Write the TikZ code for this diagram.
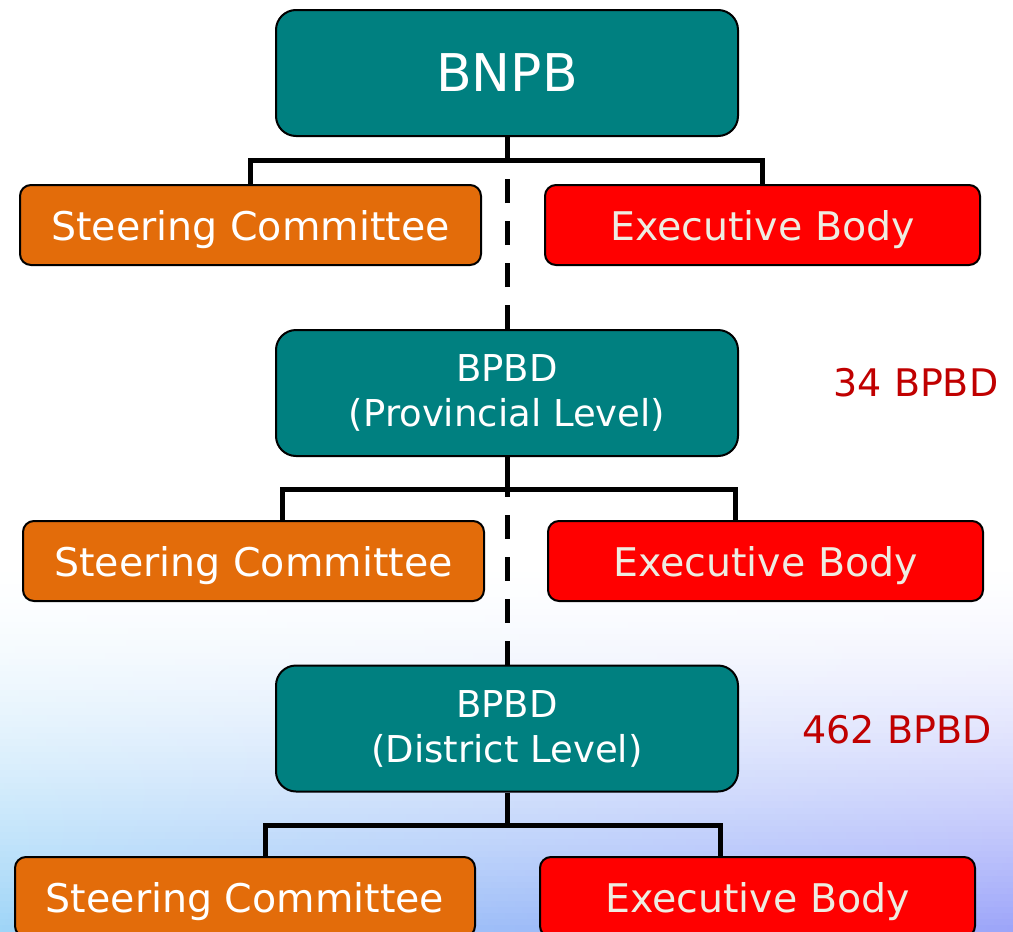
\documentclass[tikz,border=0pt]{standalone}
\usepackage{fontspec}
\setmainfont{DejaVu Sans}
\usepackage{xcolor}

\definecolor{agencyteal}{HTML}{008080}
\definecolor{steerorange}{HTML}{E36C0A}
\definecolor{execred}{HTML}{FF0000}
\definecolor{exectext}{HTML}{EEECE1}
\definecolor{tallyred}{HTML}{C00000}
\definecolor{bgsky}{HTML}{9ED4F7}
\definecolor{bgperi}{HTML}{9CA4F9}

\begin{document}
\begin{tikzpicture}[x=1pt,y=-1pt]
\tikzstyle{every node}+=[inner sep=0pt]
\tikzstyle{agency}=[draw=black,line width=2pt,fill=agencyteal,rounded corners=20pt,text=white,minimum width=462pt,minimum height=126pt,align=center]
\tikzstyle{steerbox}=[draw=black,line width=2pt,fill=steerorange,rounded corners=11pt,text=white,minimum width=461pt,minimum height=80pt,text depth=0pt,font=\fontsize{39.5}{47}\selectfont]
\tikzstyle{execbox}=[draw=black,line width=2pt,fill=execred,rounded corners=11pt,text=exectext,minimum width=435pt,minimum height=80pt,text depth=0pt,font=\fontsize{39.5}{47}\selectfont]
\tikzstyle{joinline}=[line width=5pt]
\tikzstyle{dashlink}=[line width=5pt,dash pattern=on 24pt off 18pt]
\tikzstyle{tally}=[text=tallyred,font=\fontsize{38}{46}\selectfont]
\useasboundingbox (0,0) rectangle (1013,932);
\clip (0,0) rectangle (1013,932);
% background
\fill[white] (0,0) rectangle (1013,561);
\foreach \i in {0,...,59} {
  \pgfmathsetmacro\p{100*((\i+0.5)/60)^1.6}
  \shade[left color=bgsky!\p!white,right color=bgperi!\p!white] (0,{560+\i*6.2}) rectangle (1013,{560+(\i+1)*6.2+0.6});
}
% national level
\node[agency,font=\fontsize{52}{62}\selectfont] (bnpb) at (507,73) {BNPB};
\node[steerbox] (sc1) at (250.5,225) {Steering Committee};
\node[execbox] (eb1) at (762.5,225) {Executive Body};
% provincial level
\node[agency,font=\fontsize{37}{45}\selectfont] (prov) at (507,393) {BPBD\\(Provincial Level)};
\node[steerbox] (sc2) at (253.5,561) {Steering Committee};
\node[execbox] (eb2) at (765.5,561) {Executive Body};
\node[tally] (nprov) at (916,383) {34 BPBD};
% district level
\node[agency,font=\fontsize{37}{45}\selectfont] (dist) at (507,728.5) {BPBD\\(District Level)};
\node[steerbox,minimum width=460pt] (sc3) at (245,897) {Steering Committee};
\node[execbox] (eb3) at (757.5,897) {Executive Body};
\node[tally] (ndist) at (897,730) {462 BPBD};
% connectors
\coordinate (bar1) at (507,160);
\draw[joinline] (bnpb.south) -- (bar1);
\draw[joinline] (sc1.north) |- (bar1) -| (eb1.north);
\draw[dashlink] (prov.north) -- (bar1);
\coordinate (bar2) at (507,489.5);
\coordinate (b2l) at (282.5,489.5);
\coordinate (b2r) at (735.5,489.5);
\draw[joinline] (prov.south) -- (bar2);
\draw[joinline] (sc2.north -| b2l) -- (b2l) -- (b2r) -- (eb2.north -| b2r);
\draw[dashlink] (dist.north) -- (bar2);
\coordinate (bar3) at (507,825.5);
\coordinate (b3l) at (265.5,825.5);
\coordinate (b3r) at (720.5,825.5);
\draw[joinline] (dist.south) -- (bar3);
\draw[joinline] (sc3.north -| b3l) -- (b3l) -- (b3r) -- (eb3.north -| b3r);
\end{tikzpicture}
\end{document}
